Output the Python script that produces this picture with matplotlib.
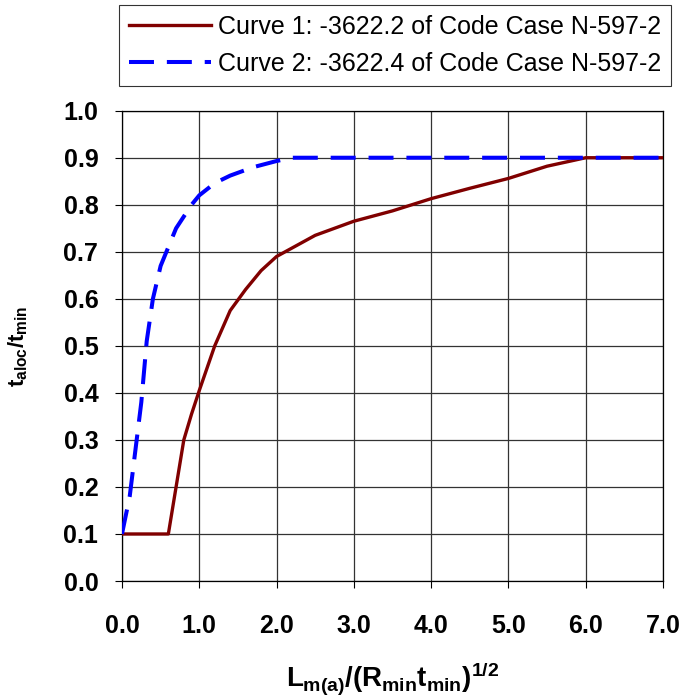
import numpy as np
from matplotlib import pyplot as plt

plt.rcParams['font.family'] = ['Liberation Sans', 'DejaVu Sans']
plt.rcParams['mathtext.fontset'] = 'custom'
plt.rcParams['mathtext.rm'] = 'Liberation Sans:bold'
plt.rcParams['mathtext.it'] = 'Liberation Sans:bold'
plt.rcParams['mathtext.bf'] = 'Liberation Sans:bold'

# curve 1: -3622.2 of Code Case N-597-2
x1 = [0.0, 0.6, 0.8, 0.9, 1.0, 1.2, 1.4, 1.6, 1.8, 2.0, 2.5, 3.0, 3.5, 4.0, 4.5, 5.0, 5.5, 6.0, 7.0]
y1 = [0.1, 0.1, 0.3, 0.355, 0.405, 0.50, 0.575, 0.62, 0.66, 0.69, 0.735, 0.765, 0.787, 0.813, 0.835, 0.856, 0.882, 0.90, 0.90]

# curve 2: -3622.4 of Code Case N-597-2
x2 = [0.0, 0.1, 0.25, 0.32, 0.4, 0.5, 0.7, 0.9, 1.0, 1.2, 1.4, 1.7, 2.0, 2.2, 7.0]
y2 = [0.1, 0.18, 0.38, 0.51, 0.60, 0.67, 0.75, 0.80, 0.82, 0.846, 0.862, 0.88, 0.893, 0.90, 0.90]

xticks = np.arange(0, 7.01, 1.0)
yticks = np.arange(0, 1.01, 0.1)

fig = plt.figure(figsize=(6.83, 6.98), dpi=100)
ax = fig.add_axes([0.1786, 0.1676, 0.7921, 0.6738])

l1, = ax.plot(x1, y1, color='#800000', lw=2.4, label='Curve 1: -3622.2 of Code Case N-597-2', zorder=3)
l2, = ax.plot(x2, y2, color='#0000ff', lw=2.9, linestyle=(0, (6.2, 3.2)),
              label='Curve 2: -3622.4 of Code Case N-597-2', zorder=4)

ax.set_xlim(0, 7)
ax.set_ylim(0, 1)
ax.set_xticks(xticks)
ax.set_yticks(yticks)
ax.set_xticklabels(['%.1f' % v for v in xticks], fontsize=18, fontweight='bold')
ax.set_yticklabels(['%.1f' % v for v in yticks], fontsize=18, fontweight='bold')
ax.tick_params(direction='out', length=5, width=0.8, color='black')
ax.tick_params(axis='x', pad=19)
ax.tick_params(axis='y', pad=12)
ax.grid(True, color='#333333', lw=0.9)
ax.set_axisbelow(True)
for s in ax.spines.values():
    s.set_color('black')
    s.set_linewidth(0.9)

ax.set_xlabel(r'$L_{m(a)}/(R_{min}t_{min})^{1/2}$', fontsize=20, labelpad=16)
ax.set_ylabel(r'$t_{aloc}/t_{min}$', fontsize=16, labelpad=24)

leg = fig.legend(handles=[l1, l2], loc='upper right', bbox_to_anchor=(0.9824, 0.9928),
                 fontsize=18, frameon=True, fancybox=False, edgecolor='black',
                 handlelength=3.3, borderpad=0.4, labelspacing=0.5, handletextpad=0.25,
                 borderaxespad=0)
leg.get_frame().set_linewidth(0.8)

fig.savefig('out.png', dpi=100)
